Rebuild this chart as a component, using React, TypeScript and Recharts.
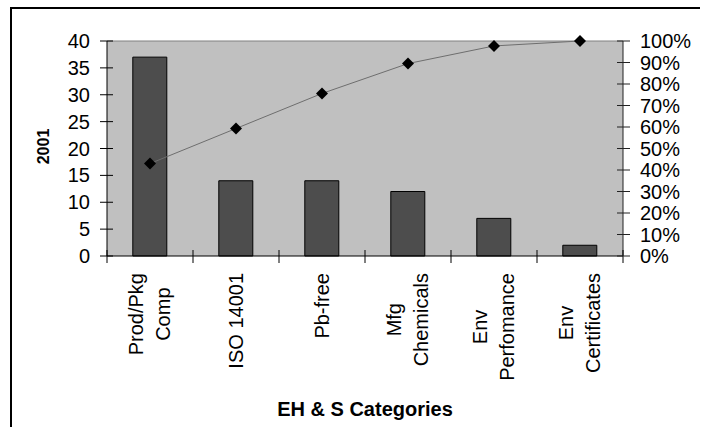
import React from 'react';
import { ComposedChart, Bar, Line, XAxis, YAxis, CartesianGrid, ReferenceLine } from 'recharts';

// values
const categories = ['Prod/Pkg\nComp', 'ISO 14001', 'Pb-free', 'Mfg\nChemicals', 'Env\nPerfomance', 'Env\nCertificates'];
const counts = [37, 14, 14, 12, 7, 2];
const cumulativeShare = [0.43, 0.593, 0.756, 0.895, 0.977, 1.0];
const countTicks = [0, 5, 10, 15, 20, 25, 30, 35, 40];
const shareTicks = [0, 0.1, 0.2, 0.3, 0.4, 0.5, 0.6, 0.7, 0.8, 0.9, 1];

const data = categories.map((name, i) => ({ name, count: counts[i], share: cumulativeShare[i] }));

const FONT = '"Liberation Sans", Arial, sans-serif';
const TICK_FS = 20;
const TICK_SIZE = 7;
const TICK_MARGIN = 10;
const LINE_H = 27;

let measureCtx: CanvasRenderingContext2D | null = null;
const measure = (s: string) => {
  if (!measureCtx) measureCtx = document.createElement('canvas').getContext('2d');
  if (!measureCtx) return s.length * 10;
  measureCtx.font = `${TICK_FS}px "Liberation Sans"`;
  return measureCtx.measureText(s).width;
};

const CategoryTick = (props: any) => {
  const { x, y, payload, index, width } = props;
  const half = payload.offset || width / categories.length / 2;
  const axisY = y - TICK_SIZE - TICK_MARGIN;
  const lines = String(payload.value).split('\n');
  const longest = Math.max(...lines.map(measure));
  const cy = y + longest / 2;
  const n = lines.length;
  return (
    <g>
      {index === 0 && <line x1={x - half} x2={x - half} y1={axisY - 6} y2={axisY + 7} stroke="#000" />}
      <line x1={x + half} x2={x + half} y1={axisY - 6} y2={axisY + 7} stroke="#000" />
      {lines.map((l, i) => {
        const lx = x + (i - (n - 1) / 2) * LINE_H;
        return (
          <text key={i} x={lx} y={cy} transform={`rotate(-90 ${lx} ${cy})`} textAnchor="middle"
            dominantBaseline="central" fontSize={TICK_FS} fontFamily={FONT} fill="#000">{l}</text>
        );
      })}
    </g>
  );
};

const LeftTick = (props: any) => {
  const { x, y, payload } = props;
  const ax = x + TICK_SIZE + TICK_MARGIN;
  return (
    <g>
      <line x1={ax - 7} x2={ax + 6} y1={y} y2={y} stroke="#000" />
      <text x={x} y={y} dy="0.355em" textAnchor="end" fontSize={TICK_FS} fontFamily={FONT} fill="#000">{payload.value}</text>
    </g>
  );
};

const RightTick = (props: any) => {
  const { x, y, payload } = props;
  const ax = x - TICK_SIZE - TICK_MARGIN;
  return (
    <g>
      <line x1={ax - 6} x2={ax + 7} y1={y} y2={y} stroke="#222" />
      <text x={x} y={y} dy="0.355em" textAnchor="start" fontSize={TICK_FS} fontFamily={FONT} fill="#000">
        {Math.round(payload.value * 100) + '%'}
      </text>
    </g>
  );
};

const Diamond = (props: any) => {
  const { cx, cy, index } = props;
  if (cx == null || cy == null) return null;
  const r = 6;
  return <polygon key={index} points={`${cx},${cy - r} ${cx + r},${cy} ${cx},${cy + r} ${cx - r},${cy}`} fill="#000" />;
};

const YTitle = (props: any) => {
  const vb = props.viewBox || {};
  const x = (vb.x || 0) + 31;
  const y = (vb.y || 0) + (vb.height || 0) / 2 - 2;
  return (
    <text x={x} y={y} transform={`rotate(-90 ${x} ${y})`} textAnchor="middle" dominantBaseline="central"
      fontSize={16} fontWeight="bold" fontFamily={FONT} fill="#000">2001</text>
  );
};

export default function App() {
  return (
    <div style={{ position: 'absolute', left: 10, top: 7, width: 690, height: 420, boxSizing: 'border-box',
      borderTop: '2px solid #000', borderLeft: '2px solid #000', background: '#fff', fontFamily: FONT }}>
      <ComposedChart width={688} height={418} data={data} barCategoryGap="30%"
        margin={{ top: 32, right: 0, bottom: 0, left: 0 }}>
        <CartesianGrid horizontal={false} vertical={false} fill="#c0c0c0" yAxisId="left" />
        <XAxis dataKey="name" height={171} interval={0} tickLine={false} tickSize={TICK_SIZE} tickMargin={TICK_MARGIN}
          axisLine={{ stroke: '#000' }} tick={(p: any) => <CategoryTick {...p} />}
          label={{ value: 'EH & S Categories', position: 'insideBottom', offset: 11, fill: '#000', fontSize: 20,
            fontWeight: 'bold', fontFamily: FONT }} />
        <YAxis yAxisId="left" domain={[0, 40]} ticks={countTicks} width={95} interval={0} tickLine={false}
          tickSize={TICK_SIZE} tickMargin={TICK_MARGIN} axisLine={{ stroke: '#000' }}
          tick={(p: any) => <LeftTick {...p} />} label={{ content: (p: any) => <YTitle {...p} /> }} />
        <YAxis yAxisId="right" orientation="right" domain={[0, 1]} ticks={shareTicks} width={77} interval={0}
          tickLine={false} tickSize={TICK_SIZE} tickMargin={TICK_MARGIN} axisLine={{ stroke: '#222' }}
          tick={(p: any) => <RightTick {...p} />} />
        <ReferenceLine yAxisId="left" y={40} stroke="#808080" />
        <Bar yAxisId="left" dataKey="count" fill="#4d4d4d" stroke="#000" strokeWidth={1} isAnimationActive={false} />
        <Line yAxisId="right" dataKey="share" type="linear" stroke="#6e6e6e" strokeWidth={1}
          dot={(p: any) => <Diamond {...p} />} activeDot={false} isAnimationActive={false} />
      </ComposedChart>
    </div>
  );
}
